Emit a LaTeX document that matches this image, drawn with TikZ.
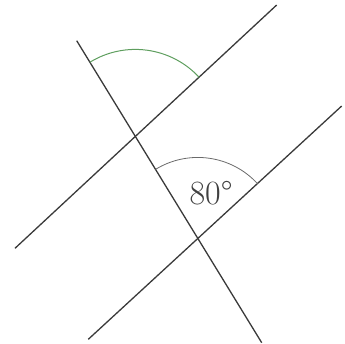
\documentclass[tikz,border=0pt]{standalone}
\usepackage{fontspec}
\usetikzlibrary{intersections}
\definecolor{linegray}{HTML}{3A3A3A}
\definecolor{textgray}{HTML}{404040}
\definecolor{arcgray}{HTML}{6A6A6A}
\definecolor{arcgreen}{HTML}{5E9E5E}
\begin{document}
\begin{tikzpicture}[x=1pt,y=1pt,
  mainline/.style={draw=linegray,line width=1.3pt},
  anglearc/.style={draw=arcgray,line width=0.8pt},
  greenarc/.style={draw=arcgreen,line width=1pt}]
\useasboundingbox (0,0) rectangle (345,344);
\coordinate (T1) at (76.7,303.3);
\coordinate (T2) at (261.7,1.3);
\coordinate (U1) at (15,95.7);
\coordinate (U2) at (276.7,339);
\coordinate (L1) at (88.3,4.7);
\coordinate (L2) at (341.7,238);
\path[name path=trans] (T1) -- (T2);
\path[name path=upper] (U1) -- (U2);
\path[name path=lower] (L1) -- (L2);
\path[name intersections={of=trans and upper, by=P1}];
\path[name intersections={of=trans and lower, by=P2}];
\draw[mainline] (T1) -- (T2);
\draw[mainline] (U1) -- (U2);
\draw[mainline] (L1) -- (L2);
\draw[greenarc] ([shift={(42.9:87)}]P1) arc[start angle=42.9, end angle=121.5, radius=87];
\draw[anglearc] ([shift={(42.6:81)}]P2) arc[start angle=42.6, end angle=121.5, radius=81];
\node[text=textgray,inner sep=0pt,font=\fontsize{34}{40}\selectfont] (lbl) at (211,151) {80°};
\end{tikzpicture}
\end{document}
